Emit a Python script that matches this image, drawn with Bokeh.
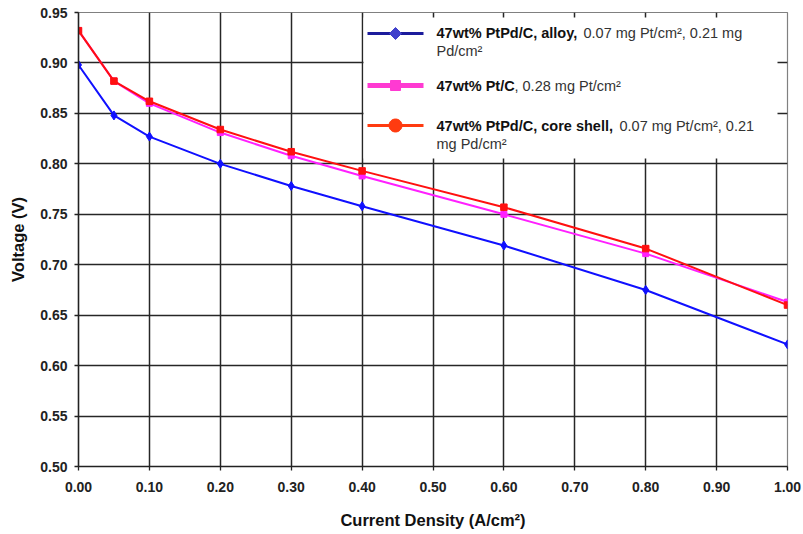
import numpy as np
from bokeh.plotting import figure
from bokeh.models import (ColumnDataSource, FixedTicker, NumeralTickFormatter,
                          Label, BoxAnnotation, PolyAnnotation, Range1d)
from bokeh.embed import file_html
from bokeh.resources import INLINE

# Polarization data: current density (A/cm2) vs cell voltage (V)
current_density = [0.00, 0.05, 0.10, 0.20, 0.30, 0.40, 0.60, 0.80, 1.00]
v_alloy = [0.898, 0.848, 0.827, 0.800, 0.778, 0.758, 0.719, 0.675, 0.621]
v_ptc = [0.932, 0.882, 0.860, 0.831, 0.808, 0.788, 0.750, 0.711, 0.663]
v_core_shell = [0.932, 0.882, 0.862, 0.834, 0.812, 0.793, 0.757, 0.716, 0.660]

x_ticks = [round(0.1 * i, 2) for i in range(11)]
y_ticks = [round(0.50 + 0.05 * i, 2) for i in range(10)]

FONT = "Liberation Sans"

# frame geometry on the canvas
LEFT, TOP, FW, FH = 78, 12, 709, 454
W, H = 803, 534

p = figure(width=W, height=H, output_backend="svg", toolbar_location=None,
           x_range=Range1d(0, 1.0), y_range=Range1d(0.50, 0.95),
           min_border_left=LEFT, min_border_top=TOP,
           min_border_right=W - LEFT - FW, min_border_bottom=H - TOP - FH)
p.background_fill_color = "white"
p.border_fill_color = "white"
p.outline_line_color = "#808080"
p.outline_line_width = 1.2

for ax in (p.xaxis, p.yaxis):
    ax.major_label_text_font = FONT
    ax.major_label_text_font_style = "bold"
    ax.major_label_text_font_size = "14px"
    ax.major_label_text_color = "#222222"
    ax.axis_label_text_font = FONT
    ax.axis_label_text_font_style = "bold"
    ax.axis_label_text_font_size = "16.5px"
    ax.axis_label_text_color = "#111111"
    ax.axis_line_color = "#222222"
    ax.axis_line_width = 1.5
    ax.major_tick_line_color = "#222222"
    ax.major_tick_line_width = 1.3
    ax.major_tick_out = 4
    ax.major_tick_in = 0
    ax.minor_tick_line_color = None

p.xaxis.ticker = FixedTicker(ticks=x_ticks)
p.yaxis.ticker = FixedTicker(ticks=y_ticks)
p.xaxis.formatter = NumeralTickFormatter(format="0.00")
p.yaxis.formatter = NumeralTickFormatter(format="0.00")
p.xaxis.major_label_standoff = 11
p.yaxis.major_label_standoff = 7
p.xaxis.axis_label = "Current Density (A/cm\u00b2)"
p.yaxis.axis_label = "Voltage (V)"
p.xaxis.axis_label_standoff = 16
p.yaxis.axis_label_standoff = 10

p.xgrid.ticker = FixedTicker(ticks=x_ticks)
p.ygrid.ticker = FixedTicker(ticks=y_ticks)
for g in (p.xgrid, p.ygrid):
    g.grid_line_color = "#262626"
    g.grid_line_width = 1.5

src = ColumnDataSource(dict(x=current_density, alloy=v_alloy,
                            ptc=v_ptc, cs=v_core_shell))

p.line("x", "alloy", source=src, line_color="#1010ff", line_width=2)
p.scatter("x", "alloy", source=src, marker="diamond", size=9,
          fill_color="#1010ff", line_color="#1010ff")

p.line("x", "ptc", source=src, line_color="#ff20ff", line_width=2)
p.scatter("x", "ptc", source=src, marker="square", size=6,
          fill_color="#ff20ff", line_color="#ff20ff")

p.line("x", "cs", source=src, line_color="#ff1010", line_width=2)
p.scatter("x", "cs", source=src, marker="square", size=6.5,
          fill_color="#ff1010", line_color="#ff1010")


# ---- legend, laid out in screen units relative to the frame ----
def sx(X):
    return X - LEFT


def sy(Y):
    return TOP + FH - Y


p.add_layout(BoxAnnotation(left=sx(363), right=sx(777), top=sy(17), bottom=sy(158),
                           left_units="screen", right_units="screen",
                           top_units="screen", bottom_units="screen",
                           fill_color="white", fill_alpha=1.0, line_color=None))


def sample_line(yc, color, width):
    p.add_layout(PolyAnnotation(xs=[sx(367), sx(423)], ys=[sy(yc), sy(yc)],
                                xs_units="screen", ys_units="screen",
                                line_color=color, line_width=width,
                                line_alpha=1.0, fill_alpha=0))


def sample_marker(xs, ys, color):
    p.add_layout(PolyAnnotation(xs=[sx(v) for v in xs], ys=[sy(v) for v in ys],
                                xs_units="screen", ys_units="screen",
                                line_color=color, line_width=1, line_alpha=1.0,
                                fill_color=color, fill_alpha=1.0))


mx = 395
# alloy: navy line with a diamond
sample_line(33, "#1c1c9c", 3)
sample_marker([mx - 6, mx, mx + 6, mx], [33, 27, 33, 39], "#4040cc")
# Pt/C: thick pink line with a square
sample_line(85, "#ff3ad2", 5)
sample_marker([mx - 5, mx + 5, mx + 5, mx - 5], [80, 80, 90, 90], "#ff3ad2")
# core shell: red-orange line with a circle
sample_line(125, "#ff3b10", 3)
ang = np.linspace(0, 2 * np.pi, 33)[:-1]
sample_marker(list(mx + 6.5 * np.cos(ang)), list(125 + 6.5 * np.sin(ang)), "#ff3b10")


def legend_text(X, Y, txt, bold=False):
    p.add_layout(Label(x=sx(X), y=sy(Y), x_units="screen", y_units="screen",
                       text=txt, text_font=FONT, text_font_size="14.5px",
                       text_font_style="bold" if bold else "normal",
                       text_color="#111111" if bold else "#333333",
                       text_baseline="middle", text_align="left"))


legend_text(436, 32, "47wt% PtPd/C, alloy,", bold=True)
legend_text(583, 32, "0.07 mg Pt/cm\u00b2, 0.21 mg")
legend_text(436, 50, "Pd/cm\u00b2")
legend_text(436, 85, "47wt% Pt/C", bold=True)
legend_text(514, 85, ", 0.28 mg Pt/cm\u00b2")
legend_text(436, 125, "47wt% PtPd/C, core shell,", bold=True)
legend_text(619, 125, "0.07 mg Pt/cm\u00b2, 0.21")
legend_text(436, 143, "mg Pd/cm\u00b2")

open("out.html", "w").write(file_html(p, INLINE))
